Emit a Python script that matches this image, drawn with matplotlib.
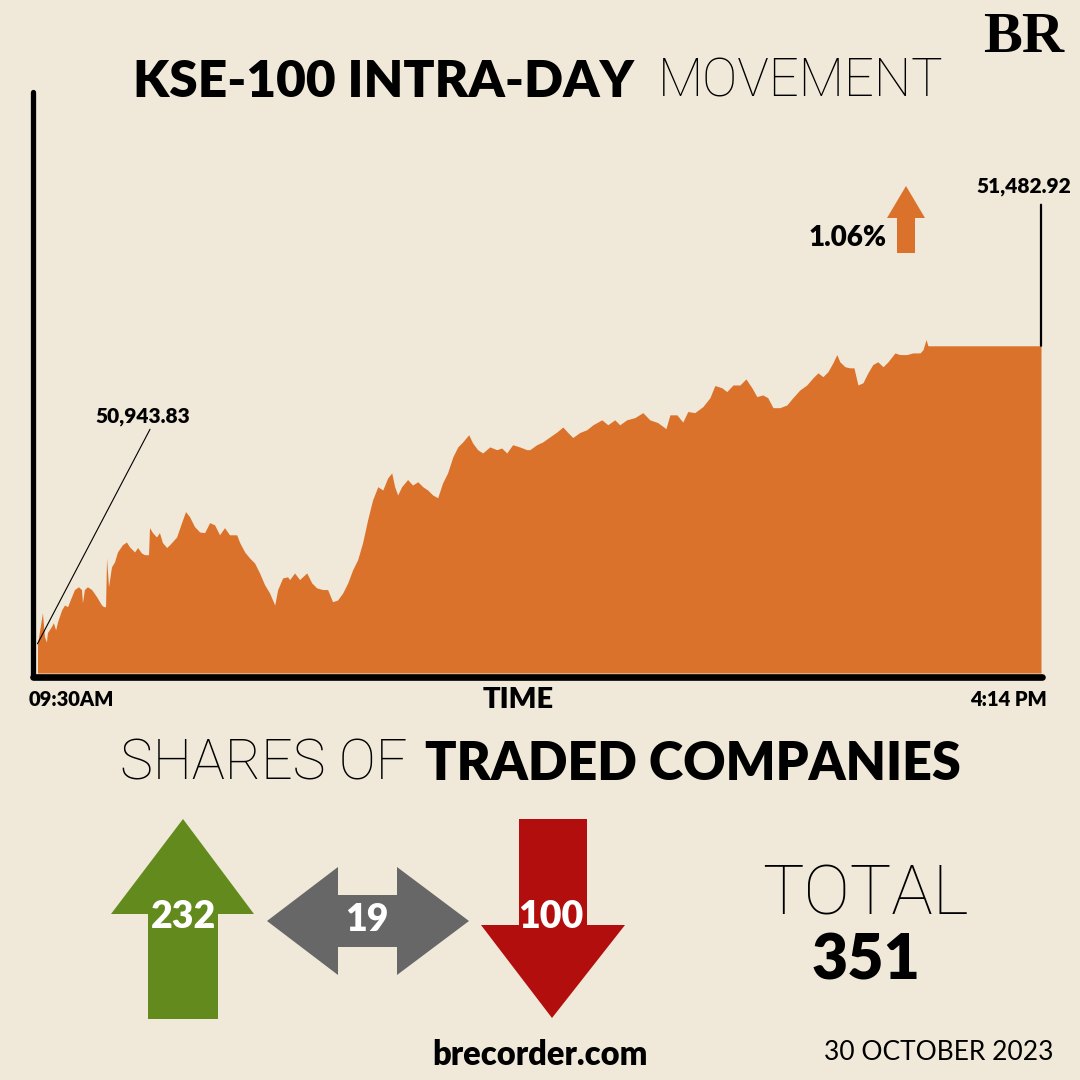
import numpy as np
import matplotlib.pyplot as plt
from matplotlib.patches import Polygon

# KSE-100 intra-day index (minutes after 09:30, index level)
minutes = [0, 2.0, 2.8, 3.6, 4.0, 5.6, 6.4, 7.3, 8.1, 9.7, 10.9, 12.1, 13.7, 14.9, 16.5, 17.7, 18.1, 18.9, 20.1, 21.8,
           23.8, 25.8, 26.6, 27.4, 27.8, 28.6, 29.8, 31.0, 32.2, 34.2, 35.8, 37.1, 39.1, 40.3, 41.9, 43.1, 44.7, 45.1, 46.3, 47.9,
           49.1, 50.3, 52.0, 53.2, 56.0, 58.0, 59.6, 61.2, 63.2, 65.3, 67.3, 69.3, 71.3, 73.3, 75.3, 77.3, 80.2, 81.4, 83.4, 85.4,
           87.4, 89.4, 91.4, 93.4, 95.5, 96.7, 98.7, 100.7, 101.5, 103.5, 105.5, 108.4, 110.4, 112.4, 114.8, 116.8, 118.8, 120.8, 122.9, 124.9,
           126.9, 128.9, 130.9, 132.9, 134.9, 137.0, 139.0, 141.0, 142.6, 143.8, 145.0, 146.6, 149.0, 151.0, 153.1, 155.1, 157.1, 159.1, 161.1, 163.1,
           165.1, 167.2, 169.2, 171.2, 173.6, 175.2, 177.2, 179.2, 182.1, 184.9, 186.9, 188.9, 191.3, 194.1, 197.0, 198.2, 201.0, 203.4, 206.2, 209.1,
           211.5, 213.5, 215.5, 218.3, 221.1, 223.6, 227.2, 229.6, 232.4, 234.4, 237.2, 240.5, 243.7, 246.5, 249.7, 253.0, 254.6, 257.4, 259.8, 261.8,
           264.6, 267.9, 270.7, 272.7, 275.5, 277.5, 280.0, 282.8, 285.2, 287.6, 289.6, 292.0, 294.0, 296.1, 298.9, 301.7, 304.1, 306.9, 309.7, 312.2,
           314.2, 316.2, 318.2, 320.2, 321.8, 323.0, 325.1, 327.1, 328.7, 330.3, 332.3, 334.3, 336.3, 338.3, 340.4, 342.4, 345.2, 347.2, 350.0, 352.4,
           355.3, 356.5, 357.7, 358.5, 404]
index_level = [50943.83, 51000, 50957, 50947, 50964, 50975, 50982, 50969, 50984, 51005, 51014, 51011, 51029, 51042, 51047, 51042, 51018, 51042, 51047, 51042,
               51029, 51014, 51011, 51011, 51099, 51047, 51083, 51092, 51110, 51123, 51128, 51119, 51110, 51118, 51108, 51105, 51105, 51154, 51145, 51137,
               51145, 51127, 51118, 51123, 51137, 51163, 51183, 51174, 51156, 51146, 51145, 51163, 51159, 51141, 51154, 51141, 51141, 51127, 51110, 51099,
               51090, 51072, 51051, 51036, 51014, 51042, 51063, 51065, 51060, 51072, 51060, 51072, 51054, 51045, 51042, 51042, 51020, 51023, 51036, 51054,
               51078, 51096, 51127, 51168, 51204, 51228, 51222, 51244, 51253, 51228, 51213, 51228, 51241, 51231, 51237, 51228, 51222, 51213, 51208, 51235,
               51253, 51282, 51300, 51309, 51322, 51307, 51295, 51289, 51300, 51295, 51298, 51289, 51304, 51300, 51295, 51295, 51304, 51309, 51318, 51327,
               51336, 51326, 51317, 51326, 51331, 51340, 51349, 51340, 51349, 51340, 51349, 51353, 51362, 51349, 51344, 51333, 51358, 51358, 51345, 51364,
               51362, 51373, 51389, 51411, 51407, 51400, 51412, 51412, 51423, 51407, 51391, 51394, 51389, 51371, 51371, 51376, 51389, 51403, 51412, 51425,
               51434, 51427, 51436, 51452, 51467, 51454, 51445, 51443, 51443, 51412, 51416, 51434, 51449, 51454, 51445, 51454, 51470, 51467, 51467, 51470,
               51470, 51476, 51494, 51482.92, 51482.92]

open_label = "50,943.83"
close_label = "51,482.92"
change_label = "1.06%"
time_labels = ["09:30AM", "4:14 PM"]

# shares of traded companies
share_names = ["up", "unchanged", "down"]
share_counts = [232, 19, 100]
total = sum(share_counts)
date_label = "30 OCTOBER 2023"

bg = "#F0E9D9"
orange = "#DB722B"
green = "#628A1C"
grey = "#676767"
red = "#B20E0E"
thin = dict(family=['Roboto', 'DejaVu Sans'], fontweight='light')

plt.rcParams['font.family'] = ['Lato', 'DejaVu Sans']

fig = plt.figure(figsize=(10.8, 10.8), dpi=100, facecolor=bg)

# area chart
ax = fig.add_axes([35 / 1080, 1 - 673 / 1080, 1006 / 1080, 581 / 1080])
ax.set_facecolor('none')
ax.set_xlim(-1, 404)
ax.set_ylim(50891, 51942)
ax.fill_between(minutes, index_level, ax.get_ylim()[0], color=orange, lw=0)
ax.axis('off')

ax.annotate(open_label, xy=(minutes[0], index_level[0]), xytext=(143 / 1080, 1 - 417 / 1080),
            textcoords='figure fraction', ha='center', va='center', fontsize=15, fontweight='heavy',
            arrowprops=dict(arrowstyle='-', lw=0.8, color='black', shrinkA=0, shrinkB=0, relpos=(0.6, 0.1)))
ax.annotate('', xy=(minutes[-1], index_level[-1]), xytext=(minutes[-1], 0.806),
            textcoords=('data', 'axes fraction'),
            arrowprops=dict(arrowstyle='-', lw=1.6, color='black', shrinkA=0, shrinkB=0))

# overlay in pixel coordinates for the infographic parts
ov = fig.add_axes([0, 0, 1, 1])
ov.set_xlim(0, 1080)
ov.set_ylim(1080, 0)
ov.axis('off')
ov.patch.set_alpha(0)

# chart axes lines
ov.plot([33, 33], [92, 677], color='black', lw=3.8, solid_capstyle='round')
ov.plot([33, 1042], [677, 677], color='black', lw=4.8, solid_capstyle='round')

ov.text(1024, 186, close_label, ha='center', va='center', fontsize=15, fontweight='heavy')

# title
ov.text(634, 82, "KSE-100 INTRA-DAY", ha='right', va='center', fontsize=37, fontweight='heavy')
ov.text(658, 82, "MOVEMENT", ha='left', va='center', fontsize=38, **thin)
ov.text(1024, 38, "BR", ha='center', va='center', fontsize=42, fontweight='bold',
        family=['Liberation Serif', 'DejaVu Serif'])

# change arrow
ov.add_patch(Polygon([(906, 186), (925, 218), (915, 218), (915, 253), (897, 253), (897, 218), (887, 218)],
                     closed=True, color=orange, lw=0))
ov.text(887, 238, change_label, ha='right', va='center', fontsize=20, fontweight='heavy')

# time labels
ov.text(29, 699, time_labels[0], ha='left', va='center', fontsize=14.5, fontweight='heavy')
ov.text(1047, 699, time_labels[1], ha='right', va='center', fontsize=14.5, fontweight='heavy')
ov.text(518, 700, "TIME", ha='center', va='center', fontsize=21, fontweight='heavy')

# shares heading
ov.text(407, 764, "SHARES OF", ha='right', va='center', fontsize=40, **thin)
ov.text(425, 764, "TRADED COMPANIES", ha='left', va='center', fontsize=37.5, fontweight='heavy')

# up / unchanged / down arrows
ov.add_patch(Polygon([(183, 819), (254, 914), (218, 914), (218, 1019), (148, 1019), (148, 914), (111, 914)],
                     closed=True, color=green, lw=0))
ov.add_patch(Polygon([(267, 921), (338, 867), (338, 895), (397, 895), (397, 867), (469, 921),
                      (397, 975), (397, 947), (338, 947), (338, 975)], closed=True, color=grey, lw=0))
ov.add_patch(Polygon([(519, 819), (587, 819), (587, 925), (625, 925), (552, 1018), (481, 925), (519, 925)],
                     closed=True, color=red, lw=0))
for (cx, cy), n in zip([(184, 917), (367, 920), (551, 917)], share_counts):
    ov.text(cx, cy, str(n), ha='center', va='center', fontsize=27, fontweight='heavy', color='white')

ov.text(865, 896, "TOTAL", ha='center', va='center', fontsize=50, **thin)
ov.text(866, 961, str(total), ha='center', va='center', fontsize=45, fontweight='heavy')

ov.text(540, 1055, "brecorder.com", ha='center', va='center', fontsize=23.5, fontweight='heavy')
ov.text(1053, 1053, date_label, ha='right', va='center', fontsize=19)

plt.savefig('out.png', dpi=100, facecolor=bg)
